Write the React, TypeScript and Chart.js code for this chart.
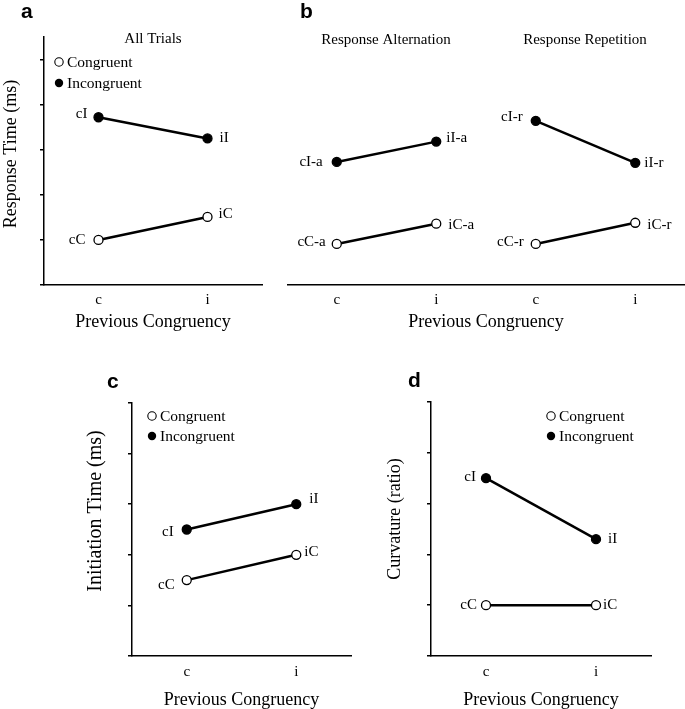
import React, { useEffect, useRef } from "react";
import { Chart, registerables } from "chart.js";

Chart.register(...registerables);

// ---------------- Data ----------------
const xLabelsTwo = ["c", "i"];
const xLabelsFour = ["c", "i", "c", "i"];
const xAxisTitle = "Previous Congruency";
const legendTexts = ["Congruent", "Incongruent"];

// Panel a – All Trials (Response Time)
const aCongruent = [1.0, 1.51];
const aIncongruent = [3.72, 3.25];
const aCongruentLabels = ["cC", "iC"];
const aIncongruentLabels = ["cI", "iI"];
const aYTicks = [0, 1, 2, 3, 4, 5];
const aYMax = 5.5;

// Panel b – Response Alternation / Repetition
const bAltCongruent = [0.91, 1.36, null, null];
const bAltIncongruent = [2.73, 3.18, null, null];
const bRepCongruent = [null, null, 0.91, 1.38];
const bRepIncongruent = [null, null, 3.64, 2.71];
const bAltCongruentLabels = ["cC-a", "iC-a", "", ""];
const bAltIncongruentLabels = ["cI-a", "iI-a", "", ""];
const bRepCongruentLabels = ["", "", "cC-r", "iC-r"];
const bRepIncongruentLabels = ["", "", "cI-r", "iI-r"];
const bYMax = 5.5;

// Panel c – Initiation Time
const cCongruent = [1.5, 2.0];
const cIncongruent = [2.5, 3.0];
const cCongruentLabels = ["cC", "iC"];
const cIncongruentLabels = ["cI", "iI"];
const cYTicks = [0, 1, 2, 3, 4, 5];
const cYMax = 5;

// Panel d – Curvature
const dCongruent = [1.0, 1.0];
const dIncongruent = [3.5, 2.3];
const dCongruentLabels = ["cC", "iC"];
const dIncongruentLabels = ["cI", "iI"];
const dYTicks = [0, 1, 2, 3, 4, 5];
const dYMax = 5;

// ---------------- Styles / layout ----------------
const SERIF = '"Liberation Serif", "Times New Roman", serif';
const SANS = '"Liberation Sans", Arial, sans-serif';

type Series = {
  values: (number | null)[];
  filled: boolean;
  texts: string[];
  offsets: number[][];
};

const panels: any[] = [
  {
    left: 0, top: 0, width: 285, height: 340,
    padding: { top: 37, right: 23, left: 0, bottom: 0 },
    yAxisWidth: 44, xAxisHeight: 55, xTickPad: 6, xTitlePad: 9,
    yMax: aYMax, yTicks: aYTicks, showY: true, labels: xLabelsTwo,
    series: [
      { values: aCongruent, filled: false, texts: aCongruentLabels, offsets: [[-13, 0], [11, -3]] },
      { values: aIncongruent, filled: true, texts: aIncongruentLabels, offsets: [[-11, -3], [12, 0]] },
    ],
    letter: { text: "a", x: 21, y: 18 },
    subtitles: [{ text: "All Trials", x: 153, y: 43 }],
    yTitle: { text: "Response Time (ms)", x: 11, y: 154, size: 18 },
    legend: { x: 59, y: [62, 83] },
  },
  {
    left: 287, top: 0, width: 398, height: 340,
    padding: { top: 37, right: 0, left: 0, bottom: 0 },
    yAxisWidth: 0, xAxisHeight: 55, xTickPad: 6, xTitlePad: 9,
    yMax: bYMax, yTicks: aYTicks, showY: false, labels: xLabelsFour,
    series: [
      { values: bAltCongruent, filled: false, texts: bAltCongruentLabels, offsets: [[-11, -2], [12, 1], [0, 0], [0, 0]] },
      { values: bAltIncongruent, filled: true, texts: bAltIncongruentLabels, offsets: [[-14, 0], [10, -4], [0, 0], [0, 0]] },
      { values: bRepCongruent, filled: false, texts: bRepCongruentLabels, offsets: [[0, 0], [0, 0], [-12, -2], [12, 2]] },
      { values: bRepIncongruent, filled: true, texts: bRepIncongruentLabels, offsets: [[0, 0], [0, 0], [-13, -4], [9, 0]] },
    ],
    letter: { text: "b", x: 300, y: 18 },
    subtitles: [
      { text: "Response Alternation", x: 386, y: 44 },
      { text: "Response Repetition", x: 585, y: 44 },
    ],
    yTitle: null,
    legend: null,
  },
  {
    left: 80, top: 345, width: 285, height: 364,
    padding: { top: 58, right: 14, left: 0, bottom: 0 },
    yAxisWidth: 52, xAxisHeight: 53, xTickPad: 7, xTitlePad: 0,
    yMax: cYMax, yTicks: cYTicks, showY: true, labels: xLabelsTwo,
    series: [
      { values: cCongruent, filled: false, texts: cCongruentLabels, offsets: [[-12, 5], [8, -3]] },
      { values: cIncongruent, filled: true, texts: cIncongruentLabels, offsets: [[-13, 3], [13, -5]] },
    ],
    letter: { text: "c", x: 107, y: 388 },
    subtitles: [],
    yTitle: { text: "Initiation Time (ms)", x: 96, y: 511, size: 20 },
    legend: { x: 152, y: [416, 436] },
  },
  {
    left: 370, top: 345, width: 300, height: 364,
    padding: { top: 57, right: 19, left: 0, bottom: 0 },
    yAxisWidth: 61, xAxisHeight: 53, xTickPad: 7, xTitlePad: 0,
    yMax: dYMax, yTicks: dYTicks, showY: true, labels: xLabelsTwo,
    series: [
      { values: dCongruent, filled: false, texts: dCongruentLabels, offsets: [[-9, 0], [7, 0]] },
      { values: dIncongruent, filled: true, texts: dIncongruentLabels, offsets: [[-10, -1], [12, 0]] },
    ],
    letter: { text: "d", x: 408, y: 387 },
    subtitles: [],
    yTitle: { text: "Curvature (ratio)", x: 395, y: 519, size: 18 },
    legend: { x: 551, y: [416, 436] },
  },
];

function buildChart(canvas: HTMLCanvasElement, spec: any) {
  const ox = spec.left;
  const oy = spec.top;
  const textPlugin = {
    id: "panelText",
    afterDraw(chart: any) {
      const ctx = chart.ctx;
      ctx.save();
      ctx.fillStyle = "#000";
      ctx.strokeStyle = "#000";

      // panel letter
      ctx.font = `bold 21px ${SANS}`;
      ctx.textAlign = "left";
      ctx.textBaseline = "alphabetic";
      ctx.fillText(spec.letter.text, spec.letter.x - ox, spec.letter.y - oy);

      // subtitles
      ctx.font = `15px ${SERIF}`;
      ctx.textAlign = "center";
      for (const s of spec.subtitles) {
        ctx.fillText(s.text, s.x - ox, s.y - oy);
      }

      // y title
      if (spec.yTitle) {
        ctx.save();
        ctx.translate(spec.yTitle.x - ox, spec.yTitle.y - oy);
        ctx.rotate(-Math.PI / 2);
        ctx.font = `${spec.yTitle.size}px ${SERIF}`;
        ctx.textAlign = "center";
        ctx.textBaseline = "middle";
        ctx.fillText(spec.yTitle.text, 0, 0);
        ctx.restore();
      }

      // legend
      if (spec.legend) {
        ctx.font = `15.5px ${SERIF}`;
        ctx.textAlign = "left";
        ctx.textBaseline = "middle";
        legendTexts.forEach((t, i) => {
          const cx = spec.legend.x - ox;
          const cy = spec.legend.y[i] - oy;
          ctx.beginPath();
          ctx.arc(cx, cy, 4.2, 0, Math.PI * 2);
          if (i === 0) {
            ctx.fillStyle = "#fff";
            ctx.fill();
            ctx.lineWidth = 1.1;
            ctx.stroke();
          } else {
            ctx.fillStyle = "#000";
            ctx.fill();
          }
          ctx.fillStyle = "#000";
          ctx.fillText(t, cx + 8, cy + 1);
        });
      }

      // point labels
      ctx.font = `15px ${SERIF}`;
      ctx.textBaseline = "middle";
      spec.series.forEach((s: Series, di: number) => {
        const meta = chart.getDatasetMeta(di);
        s.texts.forEach((txt, j) => {
          if (!txt) return;
          const el = meta.data[j];
          if (!el) return;
          const [dx, dy] = s.offsets[j];
          ctx.textAlign = dx < 0 ? "right" : "left";
          ctx.fillText(txt, el.x + dx, el.y + dy);
        });
      });
      ctx.restore();
    },
  };

  const yScale: any = {
    type: "linear",
    display: spec.showY,
    min: 0,
    max: spec.yMax,
    afterBuildTicks: (s: any) => {
      s.ticks = spec.yTicks.map((v: number) => ({ value: v }));
    },
    grid: {
      display: true,
      drawOnChartArea: false,
      drawTicks: true,
      tickLength: 4,
      color: "#000",
      lineWidth: 1.5,
    },
    border: { display: true, color: "#000", width: 1.5 },
    ticks: { display: false },
  };
  if (spec.showY) {
    yScale.afterFit = (s: any) => {
      s.width = spec.yAxisWidth;
    };
  }

  return new Chart(canvas, {
    type: "line",
    data: {
      labels: spec.labels,
      datasets: spec.series.map((s: Series) => ({
        data: s.values,
        borderColor: "#000",
        borderWidth: 2.5,
        pointRadius: 4.5,
        pointHoverRadius: 4.5,
        pointBackgroundColor: s.filled ? "#000" : "#fff",
        pointBorderColor: "#000",
        pointBorderWidth: 1.3,
        spanGaps: false,
        fill: false,
        tension: 0,
      })),
    },
    options: {
      responsive: false,
      animation: false,
      devicePixelRatio: 1,
      events: [],
      layout: { padding: spec.padding, autoPadding: false },
      plugins: {
        legend: { display: false },
        tooltip: { enabled: false },
        title: { display: false },
      },
      scales: {
        x: {
          type: "category",
          offset: true,
          grid: { display: false, drawTicks: false },
          border: { display: true, color: "#000", width: 1.5 },
          ticks: {
            color: "#000",
            font: { family: SERIF, size: 15 },
            padding: spec.xTickPad,
            maxRotation: 0,
            autoSkip: false,
          },
          title: {
            display: true,
            text: xAxisTitle,
            color: "#000",
            font: { family: SERIF, size: 18, lineHeight: 1 },
            padding: { top: 0, bottom: spec.xTitlePad },
          },
          afterFit: (s: any) => {
            s.height = spec.xAxisHeight;
          },
        },
        y: yScale,
      },
    } as any,
    plugins: [textPlugin],
  });
}

export default function App() {
  const refs = useRef<(HTMLCanvasElement | null)[]>([]);

  useEffect(() => {
    const charts = panels.map((p, i) => buildChart(refs.current[i] as HTMLCanvasElement, p));
    return () => {
      charts.forEach((c) => c.destroy());
    };
  }, []);

  return (
    <div
      style={{
        position: "absolute",
        left: 0,
        top: 0,
        width: 685,
        height: 709,
        background: "#fff",
        overflow: "hidden",
      }}
    >
      {panels.map((p, i) => (
        <canvas
          key={i}
          ref={(el) => {
            refs.current[i] = el;
          }}
          width={p.width}
          height={p.height}
          style={{ position: "absolute", left: p.left, top: p.top, width: p.width, height: p.height }}
        />
      ))}
    </div>
  );
}
